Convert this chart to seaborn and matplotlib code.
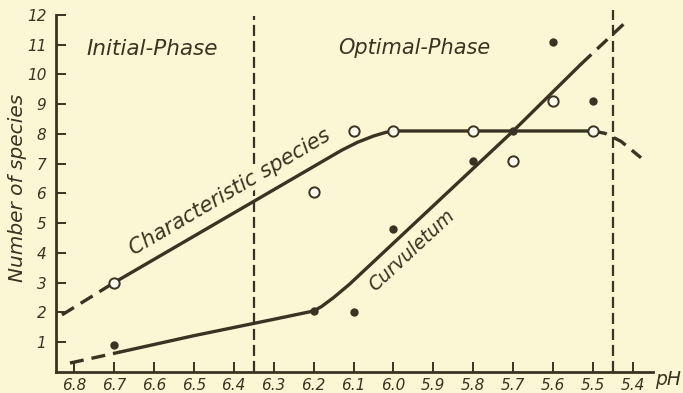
import matplotlib
matplotlib.use("Agg")
import matplotlib.pyplot as plt
import seaborn as sns
import pandas as pd

# pH scale (plotted decreasing to the right)
ph_ticks = [6.8, 6.7, 6.6, 6.5, 6.4, 6.3, 6.2, 6.1, 6.0, 5.9, 5.8, 5.7, 5.6, 5.5, 5.4]
n_ticks = list(range(1, 13))

# Observed counts: characteristic species (open circles)
char_ph = [6.7, 6.2, 6.1, 6.0, 5.8, 5.7, 5.6, 5.5]
char_n = [3.0, 6.05, 8.1, 8.1, 8.1, 7.1, 9.1, 8.1]

# Observed counts: Curvuletum (filled dots)
curv_ph = [6.7, 6.2, 6.1, 6.0, 5.8, 5.7, 5.6, 5.5]
curv_n = [0.9, 2.05, 2.0, 4.8, 7.1, 8.1, 11.1, 9.1]

# Hand-fitted trend for characteristic species
char_fit_ph = [6.7, 6.13, 6.09, 6.05, 6.02, 6.0, 5.5]
char_fit_n = [3.0, 7.45, 7.72, 7.93, 8.05, 8.1, 8.1]
char_lead_ph = [6.83, 6.7]
char_lead_n = [1.92, 3.0]
char_tail_ph = [5.5, 5.47, 5.43, 5.38]
char_tail_n = [8.1, 8.02, 7.75, 7.2]

# Hand-fitted trend for Curvuletum
curv_fit_ph = [6.685, 6.5, 6.3, 6.2, 6.18, 6.15, 6.11, 5.7, 5.53]
curv_fit_n = [0.67, 1.22, 1.77, 2.05, 2.2, 2.5, 2.95, 8.1, 10.35]
curv_lead_ph = [6.81, 6.685]
curv_lead_n = [0.3, 0.67]
curv_tail_ph = [5.53, 5.415]
curv_tail_n = [10.35, 11.8]

# Phase boundaries
phase_ph = [6.35, 5.45]
phase_top = [11.95, 12.15]

INK = "#3a3322"
PAPER = "#fbf6d3"
FONT = ["DejaVu Sans"]

sns.set_theme(style="ticks")
plt.rcParams["font.family"] = FONT
plt.rcParams["text.color"] = INK

fig = plt.figure(figsize=(6.83, 3.93), dpi=100, facecolor=PAPER)
ax = fig.add_axes([56 / 683, 21 / 393, 597 / 683, 366 / 393])
ax.set_facecolor(PAPER)


def curve(xs, ys, dashed=False, lw=2.4):
    df = pd.DataFrame({"ph": xs, "n": ys})
    kw = dict(color=INK, linewidth=lw, solid_capstyle="round",
              solid_joinstyle="round")
    if dashed:
        kw["linestyle"] = (0, (4.2, 2.4))
        kw["dash_capstyle"] = "butt"
    sns.lineplot(data=df, x="ph", y="n", sort=False, estimator=None, ax=ax, **kw)


curve(char_fit_ph, char_fit_n)
curve(char_lead_ph, char_lead_n, dashed=True)
curve(char_tail_ph, char_tail_n, dashed=True)
curve(curv_fit_ph, curv_fit_n)
curve(curv_lead_ph, curv_lead_n, dashed=True)
curve(curv_tail_ph, curv_tail_n, dashed=True)

for x, top in zip(phase_ph, phase_top):
    ax.plot([x, x], [0, top], color=INK, linewidth=1.6, linestyle=(0, (5, 2.2)))

sns.scatterplot(x=curv_ph, y=curv_n, ax=ax, color=INK, s=36, linewidth=0, zorder=5)
sns.scatterplot(x=char_ph, y=char_n, ax=ax, facecolor="#fffdf0", edgecolor=INK,
                s=55, linewidth=1.4, zorder=6)

ax.set_xlim(6.845, 5.35)
ax.set_ylim(0, 12.3)

for s in ["top", "right"]:
    ax.spines[s].set_visible(False)
for s in ["left", "bottom"]:
    ax.spines[s].set_color(INK)
    ax.spines[s].set_linewidth(2.0)
ax.spines["left"].set_bounds(0, 12)

ax.set_xticks(ph_ticks)
ax.set_xticklabels([f"{v:.1f}" for v in ph_ticks])
ax.set_yticks(n_ticks)
ax.set_yticklabels([str(v) for v in n_ticks])
ax.tick_params(axis="both", direction="in", colors=INK, width=1.4, length=7,
               labelsize=11)
ax.tick_params(axis="x", pad=4)
ax.tick_params(axis="y", pad=7)
for lab in ax.get_xticklabels() + ax.get_yticklabels():
    lab.set_fontstyle("italic")

ax.set_xlabel("")
ax.set_ylabel("")
fig.text(18 / 683, 1 - 188 / 393, "Number of species", rotation=90, ha="center",
         va="center", fontsize=14.5, fontstyle="italic", color=INK)
ax.text(5.345, -0.25, "pH", ha="left", va="center", fontsize=13.5,
        fontstyle="italic", color=INK, clip_on=False)

ax.text(6.605, 10.85, "Initial-Phase", ha="center", va="center", fontsize=15.5,
        fontstyle="italic", color=INK)
ax.text(5.9475, 10.9, "Optimal-Phase", ha="center", va="center", fontsize=15,
        fontstyle="italic", color=INK)
ax.text(6.41, 6.05, "Characteristic species", ha="center", va="center",
        rotation=30.5, rotation_mode="anchor", fontsize=15, fontstyle="italic",
        color=INK, zorder=4,
        bbox=dict(boxstyle="square,pad=0.05", facecolor=PAPER, edgecolor="none"))
ax.text(5.955, 4.1, "Curvuletum", ha="center", va="center", rotation=43,
        rotation_mode="anchor", fontsize=13.5, fontstyle="italic", color=INK)

fig.savefig("out.png", dpi=100, facecolor=PAPER)
